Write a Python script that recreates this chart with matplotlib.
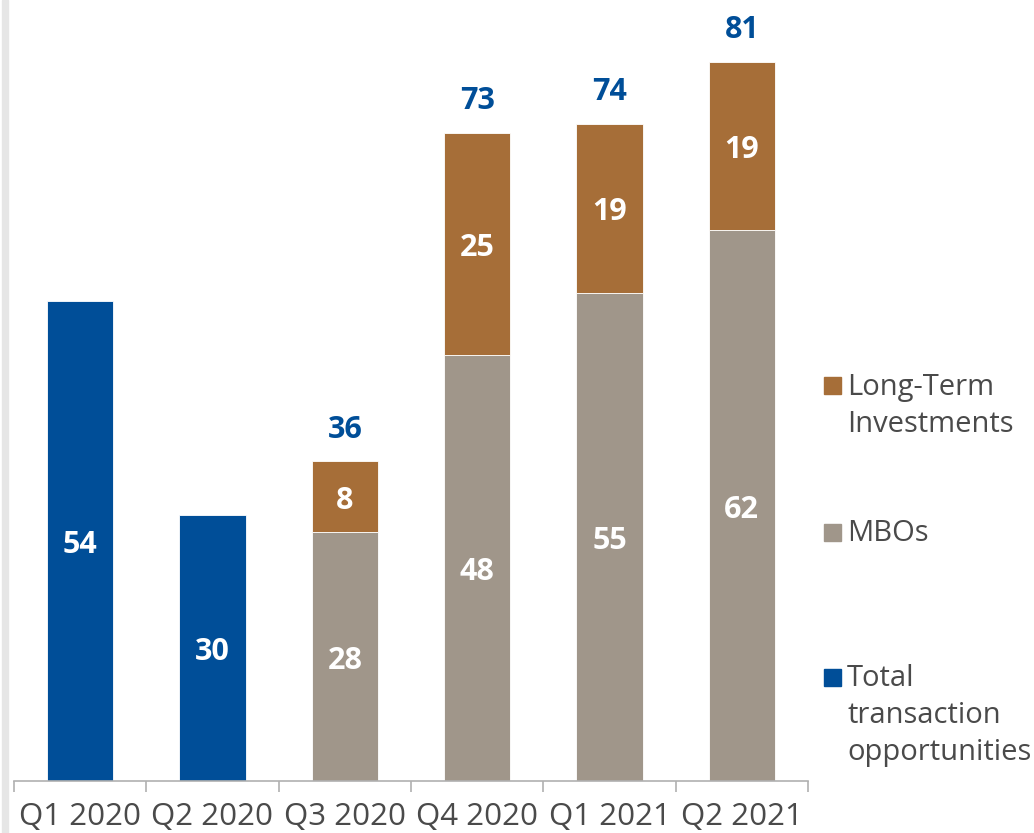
import matplotlib
matplotlib.use("Agg")
import matplotlib.pyplot as plt
from matplotlib.patches import Rectangle
import numpy as np

plt.rcParams['font.family'] = ['Open Sans', 'DejaVu Sans']

quarters = ["Q1 2020", "Q2 2020", "Q3 2020", "Q4 2020", "Q1 2021", "Q2 2021"]
total_only = [54, 30, None, None, None, None]        # total transaction opportunities
mbos = [None, None, 28, 48, 55, 62]
long_term = [None, None, 8, 25, 19, 19]

legend_labels = ["Long-Term\nInvestments", "MBOs", "Total\ntransaction\nopportunities"]

BLUE = "#004E98"
BROWN = "#A66E38"
GREY = "#A0968A"
TEXT = "#4A4A4A"

W, H = 1034, 833
fig = plt.figure(figsize=(W / 100, H / 100), dpi=100)
ax = fig.add_axes([14 / W, (H - 781) / H, 794 / W, 781 / H])

x = np.arange(len(quarters))
bw = 0.5
VAL_FS = 22


def inner_label(xpos, ypos, value):
    ax.annotate(str(value), (xpos, ypos), xytext=(0, -3), textcoords="offset points",
                ha="center", va="center", color="white",
                fontsize=VAL_FS, fontweight="bold")


for i in x:
    if total_only[i] is not None:
        v = total_only[i]
        ax.bar(i, v, bw, color=BLUE, edgecolor="white", linewidth=0.6)
        inner_label(i, v / 2, v)
    else:
        m, l = mbos[i], long_term[i]
        ax.bar(i, m, bw, color=GREY, edgecolor="white", linewidth=0.6)
        ax.bar(i, l, bw, bottom=m, color=BROWN, edgecolor="white", linewidth=0.6)
        inner_label(i, m / 2, m)
        inner_label(i, m + l / 2, l)
        ax.annotate(str(m + l), (i, m + l), xytext=(0, 12), textcoords="offset points",
                    ha="center", va="bottom", color=BLUE, fontsize=VAL_FS, fontweight="bold")

px_per_unit = 8.88
ax.set_xlim(-0.5, len(quarters) - 0.5)
ax.set_ylim(0, 781 / px_per_unit)

for s in ["top", "right", "left"]:
    ax.spines[s].set_visible(False)
ax.spines["bottom"].set_color("#B0B0B0")
ax.spines["bottom"].set_linewidth(1.2)
ax.set_yticks([])
ax.set_xticks(x)
ax.set_xticklabels(quarters, fontsize=22.5, color=TEXT)
ax.tick_params(axis="x", which="major", length=0, pad=15)
ax.set_xticks(np.arange(-0.5, len(quarters)), minor=True)
ax.tick_params(axis="x", which="minor", length=8, width=1.2, color="#B0B0B0")

# light strip on the left edge
fig.patches.append(Rectangle((2 / W, 0), 6 / W, 1, transform=fig.transFigure,
                             color="#E6E6E6", zorder=0))

# legend
legend_colors = [BROWN, GREY, BLUE]
legend_centers = [386, 532, 677]
for lab, col, cy in zip(legend_labels, legend_colors, legend_centers):
    fig.patches.append(Rectangle((824 / W, (H - cy - 8.5) / H), 17 / W, 17 / H,
                                 transform=fig.transFigure, color=col))
    fig.text(847 / W, (H - cy + 13) / H, lab, ha="left", va="top", fontsize=21,
             color=TEXT, linespacing=1.36)

fig.savefig("out.png", dpi=100)
